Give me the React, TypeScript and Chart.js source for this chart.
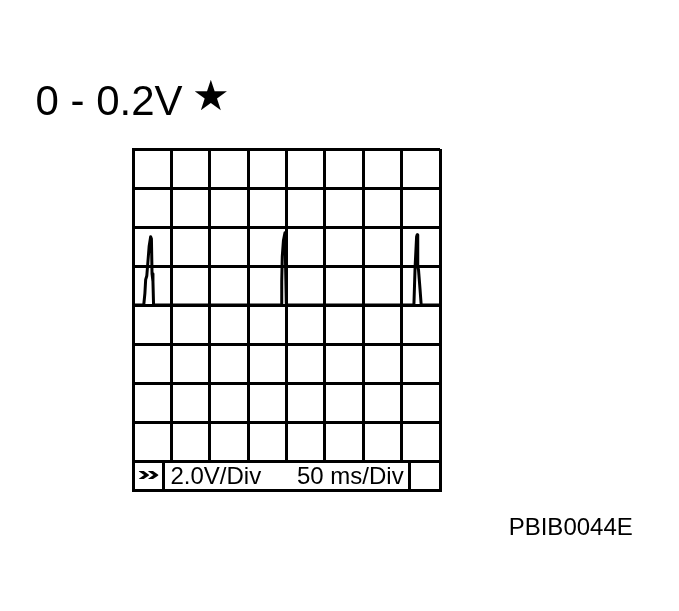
import React, { useEffect, useRef } from 'react';
import { Chart, registerables } from 'chart.js';

Chart.register(...registerables);

// scope trace: time in ms (50 ms/div), voltage in V (2.0 V/div)
const timeMs = [
    0, 14, 15.5, 16.5, 18, 21, 23, 24, 24.8, 26, 26.8,
    193, 193.8, 194.5, 196, 198, 198.8, 199.3, 199.8,
    366, 366.8, 367.5, 369.5, 370.3, 371, 372, 374, 375.5, 400
];
const volts = [
    0, 0, 0.6, 1.3, 1.5, 3.0, 3.5, 3.4, 1.6, 1.2, 0,
    0, 1.2, 2.5, 3.3, 3.7, 2.0, 1.0, 0,
    0, 1.0, 1.9, 3.5, 3.6, 2.0, 1.8, 0.8, 0, 0
];
const timeDivs = [0, 50, 100, 150, 200, 250, 300, 350, 400];
const voltDivs = [-8, -6, -4, -2, 0, 2, 4, 6, 8];

const font = '"Liberation Sans", Arial, Helvetica, sans-serif';

const ScopeChart = () => {
    const chartRef = useRef<HTMLCanvasElement>(null);
    const chartInstance = useRef<Chart | null>(null);

    useEffect(() => {
        if (chartRef.current) {
            const ctx = chartRef.current.getContext('2d');
            if (ctx) {
                if (chartInstance.current) {
                    chartInstance.current.destroy();
                }
                chartInstance.current = new Chart(ctx, {
                    type: 'line',
                    data: {
                        datasets: [
                            {
                                label: 'trace',
                                data: timeMs.map((t, i) => ({ x: t, y: volts[i] })),
                                borderColor: '#000',
                                borderWidth: 3,
                                pointRadius: 0,
                                tension: 0,
                                borderJoinStyle: 'round'
                            }
                        ]
                    },
                    options: {
                        animation: false,
                        responsive: false,
                        events: [],
                        layout: {
                            autoPadding: false,
                            padding: { left: 133, top: 149, right: 239, bottom: 150 }
                        },
                        plugins: {
                            legend: { display: false },
                            tooltip: { enabled: false }
                        },
                        scales: {
                            x: {
                                type: 'linear',
                                min: timeDivs[0],
                                max: timeDivs[timeDivs.length - 1],
                                afterBuildTicks: (axis) => {
                                    axis.ticks = timeDivs.map((v) => ({ value: v }));
                                },
                                ticks: { display: false },
                                grid: { color: '#000', lineWidth: 3, drawTicks: false },
                                border: { display: true, color: '#000', width: 3 }
                            },
                            y: {
                                type: 'linear',
                                min: voltDivs[0],
                                max: voltDivs[voltDivs.length - 1],
                                afterBuildTicks: (axis) => {
                                    axis.ticks = voltDivs.map((v) => ({ value: v }));
                                },
                                ticks: { display: false },
                                grid: { color: '#000', lineWidth: 3, drawTicks: false },
                                border: { display: true, color: '#000', width: 3 }
                            }
                        }
                    }
                });
            }
        }

        return () => {
            if (chartInstance.current) {
                chartInstance.current.destroy();
                chartInstance.current = null;
            }
        };
    }, []);

    return (
        <div style={{ position: 'absolute', left: 0, top: 0, width: 679, height: 611, background: '#fff', fontFamily: font, color: '#000' }}>
            <canvas ref={chartRef} width={679} height={611} style={{ position: 'absolute', left: 0, top: 0, width: 679, height: 611 }}></canvas>
            <div style={{ position: 'absolute', left: 35.5, top: 80, fontSize: 42, lineHeight: '42px', whiteSpace: 'nowrap' }}>0 - 0.2V</div>
            <div style={{ position: 'absolute', left: 192, top: 75, fontSize: 42, lineHeight: '42px', fontFamily: '"DejaVu Sans", sans-serif' }}>★</div>
            <div style={{ position: 'absolute', left: 131.5, top: 459.5, width: 310, height: 32, border: '3px solid #000', boxSizing: 'border-box' }}>
                <div style={{ position: 'absolute', left: 0, top: 0, width: 27, height: 26, borderRight: '3px solid #000' }}>
                    <div style={{ position: 'absolute', left: 0, top: -2.5, width: 27, height: 26, fontWeight: 'bold', fontSize: 26, lineHeight: '26px', textAlign: 'center', transform: 'scale(1.6, 0.75)' }}>»</div>
                </div>
                <div style={{ position: 'absolute', right: 0, top: 0, width: 28, height: 26, borderLeft: '3px solid #000' }}></div>
            </div>
            <div style={{ position: 'absolute', left: 170.5, top: 463.7, fontSize: 24, lineHeight: '24px', whiteSpace: 'nowrap' }}>2.0V/Div</div>
            <div style={{ position: 'absolute', left: 297, top: 463.7, fontSize: 24, lineHeight: '24px', whiteSpace: 'nowrap' }}>50 ms/Div</div>
            <div style={{ position: 'absolute', left: 508.7, top: 514.7, fontSize: 24, lineHeight: '24px', whiteSpace: 'nowrap' }}>PBIB0044E</div>
        </div>
    );
};

export default function App() {
    return <ScopeChart />;
}
